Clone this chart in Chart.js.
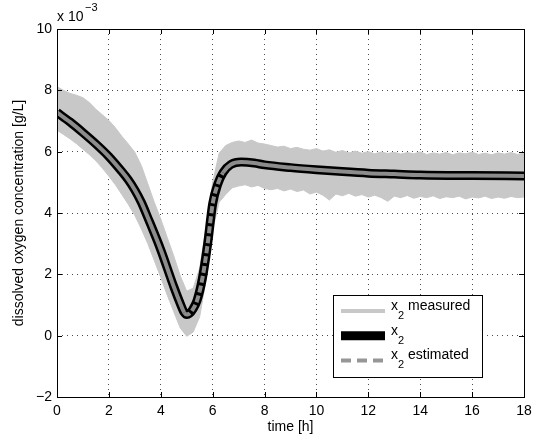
<!DOCTYPE html>
<html>
<head>
<meta charset="utf-8">
<script src="https://cdn.jsdelivr.net/npm/chart.js@4.4.1/dist/chart.umd.min.js"></script>
<style>
  html, body { margin: 0; padding: 0; background: #fff; }
  #wrap { width: 542px; height: 443px; }
</style>
</head>
<body>
<div id="wrap"><canvas id="chart_oxygen" width="542" height="443"></canvas></div>
<script>
// values are in units of 1e-3 g/L (the axis carries the "x 10^-3" factor)

// x2 (true state)
var tCurve = [0, 0.5, 1, 1.5, 2, 2.5, 2.75, 3, 3.25, 3.5, 4, 4.5, 4.75, 4.9, 5.0, 5.1, 5.25, 5.4, 5.6, 5.8, 6, 6.2, 6.4, 6.7, 7.1, 7.6, 8, 9, 10, 11, 12, 13, 14, 16, 18]
var x2Values = [7.28, 6.97, 6.62, 6.25, 5.84, 5.35, 5.08, 4.75, 4.35, 3.85, 2.8, 1.6, 1.05, 0.76, 0.69, 0.72, 0.88, 1.15, 1.85, 2.95, 4.3, 4.95, 5.32, 5.58, 5.66, 5.63, 5.57, 5.48, 5.41, 5.35, 5.3, 5.27, 5.24, 5.22, 5.21]
// x2 estimated (lies on top of x2)
var x2Estimated = [7.28, 6.97, 6.62, 6.25, 5.84, 5.35, 5.08, 4.75, 4.35, 3.85, 2.8, 1.6, 1.05, 0.76, 0.69, 0.72, 0.88, 1.15, 1.85, 2.95, 4.3, 4.95, 5.32, 5.58, 5.66, 5.63, 5.57, 5.48, 5.41, 5.35, 5.3, 5.27, 5.24, 5.22, 5.21]

// x2 measured: upper / lower edge of the noisy grey band
var tBand = [0, 0.25, 0.5, 0.75, 1, 1.25, 1.5, 1.75, 2, 2.25, 2.5, 2.75, 3, 3.25, 3.5, 3.75, 4, 4.25, 4.5, 4.75, 5, 5.25, 5.5, 5.75, 6, 6.25, 6.5, 6.75, 7, 7.25, 7.5, 7.75, 8, 8.25, 8.5, 8.75, 9, 9.25, 9.5, 9.75, 10, 10.25, 10.5, 10.75, 11, 11.25, 11.5, 11.75, 12, 12.25, 12.5, 12.75, 13, 13.25, 13.5, 13.75, 14, 14.25, 14.5, 14.75, 15, 15.25, 15.5, 15.75, 16, 16.25, 16.5, 16.75, 17, 17.25, 17.5, 17.75, 18]
var bandUpper = [8.12, 8.0, 7.9, 7.84, 7.76, 7.6, 7.38, 7.2, 7.02, 6.78, 6.5, 6.25, 5.98, 5.55, 4.95, 4.35, 3.8, 3.2, 2.6, 1.95, 1.45, 1.55, 2.2, 3.55, 5.0, 5.95, 6.2, 6.3, 6.35, 6.3, 6.38, 6.28, 6.25, 6.2, 6.15, 6.18, 6.1, 6.14, 6.08, 6.05, 6.1, 6.02, 6.06, 5.98, 6.04, 5.96, 6.02, 5.95, 6.0, 5.93, 5.99, 5.94, 5.98, 5.92, 5.97, 5.93, 5.99, 5.91, 5.96, 5.92, 5.97, 5.9, 5.96, 5.93, 5.98, 5.91, 5.95, 5.9, 5.96, 5.92, 5.97, 5.91, 5.95]
var bandLower = [6.7, 6.56, 6.42, 6.26, 6.08, 5.9, 5.7, 5.46, 5.2, 4.92, 4.6, 4.28, 3.92, 3.48, 3.0, 2.45, 1.9, 1.32, 0.78, 0.25, -0.02, 0.12, 0.62, 1.85, 3.45, 4.35, 4.6, 4.82, 4.88, 4.92, 4.85, 4.9, 4.8, 4.76, 4.8, 4.72, 4.78, 4.7, 4.75, 4.62, 4.68, 4.58, 4.42, 4.62, 4.56, 4.64, 4.55, 4.6, 4.52, 4.58, 4.5, 4.38, 4.55, 4.5, 4.57, 4.48, 4.54, 4.5, 4.56, 4.47, 4.53, 4.5, 4.55, 4.46, 4.52, 4.49, 4.55, 4.47, 4.52, 4.48, 4.54, 4.5, 4.52]

// the estimate shows its dashes only on the steep rise
var dashFrom = 4.9
var dashTo = 6.5

var xTitle = "time [h]"
var yTitle = "dissolved oxygen concentration [g/L]"

function pts(xs, ys) {
    return xs.map(function (x, i) { return { x: x, y: ys[i] } })
}

Chart.defaults.font.family = "'Liberation Sans', Arial, Helvetica, sans-serif"
Chart.defaults.color = "#000"

// box round the plot + inward tick marks + exponent text
var framePlugin = {
    id: "frame",
    afterDraw: function (chart) {
        var c = chart.ctx, a = chart.chartArea
        c.save()
        c.strokeStyle = "#000"
        c.lineWidth = 1
        c.strokeRect(Math.round(a.left) + 0.5, Math.round(a.top) + 0.5, Math.round(a.right - a.left), Math.round(a.bottom - a.top))
        c.beginPath()
        chart.scales.x.ticks.forEach(function (t) {
            var px = Math.round(chart.scales.x.getPixelForValue(t.value)) + 0.5
            c.moveTo(px, a.bottom); c.lineTo(px, a.bottom - 5)
            c.moveTo(px, a.top); c.lineTo(px, a.top + 5)
        })
        chart.scales.y.ticks.forEach(function (t) {
            var py = Math.round(chart.scales.y.getPixelForValue(t.value)) + 0.5
            c.moveTo(a.left, py); c.lineTo(a.left + 5, py)
            c.moveTo(a.right, py); c.lineTo(a.right - 5, py)
        })
        c.stroke()
        c.fillStyle = "#000"
        c.textBaseline = "middle"
        c.font = "14px 'Liberation Sans', Arial, sans-serif"
        c.fillText("x 10", a.left, a.top - 12)
        c.font = "11px 'Liberation Sans', Arial, sans-serif"
        c.fillText("\u22123", a.left + 28, a.top - 21)
        c.restore()
    }
}

// MATLAB-like legend box in the lower right
var legendPlugin = {
    id: "boxLegend",
    afterDraw: function (chart) {
        var c = chart.ctx
        var bx = 333, by = 295, bw = 149, bh = 82
        c.save()
        c.fillStyle = "#fff"
        c.fillRect(bx, by, bw, bh)
        c.strokeStyle = "#000"
        c.lineWidth = 1
        c.strokeRect(bx + 0.5, by + 0.5, bw, bh)
        var rows = chart.data.datasets.filter(function (d) { return d.label })
        rows.forEach(function (d, i) {
            var ly = by + 16 + i * 24.7
            c.beginPath()
            c.moveTo(bx + 8, ly)
            c.lineTo(bx + 52, ly)
            c.strokeStyle = d.legendColor || d.borderColor
            c.lineWidth = d.legendWidth || d.borderWidth
            c.setLineDash(d.legendDash || [])
            c.stroke()
            c.setLineDash([])
            var parts = d.label.split("\u2082")
            var tx = bx + 58
            c.fillStyle = "#000"
            c.textBaseline = "middle"
            c.font = "14px 'Liberation Sans', Arial, sans-serif"
            c.fillText(parts[0], tx, ly - 5)
            tx += c.measureText(parts[0]).width
            c.font = "11px 'Liberation Sans', Arial, sans-serif"
            c.fillText("2", tx, ly + 5)
            tx += c.measureText("2").width
            c.font = "14px 'Liberation Sans', Arial, sans-serif"
            c.fillText(parts[1] || "", tx, ly - 5)
        })
        c.restore()
    }
}

var gridStyle = {
    color: "rgba(0,0,0,0.7)",
    lineWidth: 1,
    drawTicks: false
}

var ctx = document.getElementById("chart_oxygen").getContext("2d")
var myChartOxygen = new Chart(ctx, {
    type: "line",
    data: {
        datasets: [{
            label: "x\u2082 measured",
            data: pts(tBand, bandUpper),
            borderColor: "#c8c8c8",
            backgroundColor: "#c8c8c8",
            borderWidth: 1,
            pointRadius: 0,
            fill: "+1",
            tension: 0,
            order: 3,
            legendColor: "#c8c8c8",
            legendWidth: 4
        }, {
            label: "",
            data: pts(tBand, bandLower),
            borderColor: "#c8c8c8",
            backgroundColor: "#c8c8c8",
            borderWidth: 1,
            pointRadius: 0,
            fill: false,
            tension: 0,
            order: 3
        }, {
            label: "x\u2082",
            data: pts(tCurve, x2Values),
            borderColor: "#000",
            borderWidth: 9,
            pointRadius: 0,
            fill: false,
            cubicInterpolationMode: "monotone",
            order: 2
        }, {
            label: "x\u2082 estimated",
            data: pts(tCurve, x2Estimated),
            borderColor: "#8c8c8c",
            borderWidth: 4,
            pointRadius: 0,
            fill: false,
            cubicInterpolationMode: "monotone",
            order: 1,
            legendColor: "#969696",
            legendDash: [10, 6],
            segment: {
                borderDash: function (s) {
                    return (s.p0.parsed.x >= dashFrom && s.p1.parsed.x <= dashTo) ? [7, 3] : undefined
                }
            }
        }]
    },
    options: {
        responsive: false,
        animation: false,
        layout: { padding: { top: 29, right: 18, left: 0, bottom: 0 } },
        plugins: {
            legend: { display: false },
            tooltip: { enabled: false }
        },
        scales: {
            x: {
                type: "linear",
                min: 0,
                max: 18,
                grid: gridStyle,
                border: { display: false, dash: [1, 4] },
                ticks: { stepSize: 2, padding: 6, font: { size: 14 }, maxRotation: 0 },
                title: { display: true, text: xTitle, font: { size: 14 }, padding: { top: 0, bottom: 7 } },
                afterFit: function (s) { s.height = 46 }
            },
            y: {
                type: "linear",
                min: -2,
                max: 10,
                grid: gridStyle,
                border: { display: false, dash: [1, 4] },
                ticks: {
                    stepSize: 2,
                    padding: 5,
                    font: { size: 14 },
                    callback: function (v) { return String(v).replace("-", "\u2212") }
                },
                title: { display: true, text: yTitle, font: { size: 14 }, padding: { top: 11, bottom: 0 } },
                afterFit: function (s) { s.width = 57 }
            }
        }
    },
    plugins: [framePlugin, legendPlugin]
})
</script>
</body>
</html>
